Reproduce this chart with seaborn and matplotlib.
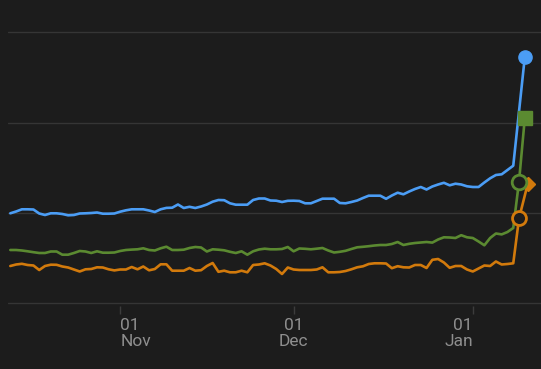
import matplotlib
matplotlib.use("Agg")
import matplotlib.pyplot as plt
import matplotlib.dates as mdates
import numpy as np
import pandas as pd
import seaborn as sns

# ---------------- data ----------------
start_date = "2023-10-13"
n_days = 88  # Oct 13 .. Jan 8, daily

blue_values = [89.7, 91.5, 93.7, 93.7, 93.5, 89.5, 88, 89.7, 89.7, 89, 87.7, 88, 89.5, 89.7, 90,
               90.5, 89.3, 89.3, 89.5, 91.3, 92.7, 93.7, 93.7, 93.7, 92.5, 91, 93.7, 95.1, 95.3,
               98.5, 95, 96.2, 95, 96.5, 98.5, 101.3, 103, 102.8, 99.7, 98.3, 98.3, 98.3, 103,
               104.5, 104.5, 102.5, 102.3, 101, 102.2, 102.3, 102, 99.7, 99.7, 102, 104.3, 104.3,
               104.3, 100, 99.7, 101, 102.5, 105, 107.3, 107.3, 107.3, 104.2, 107.5, 110.3, 108.7,
               111.5, 114, 116, 113.5, 116.5, 118.5, 120.2, 117.7, 119.3, 118.5, 116.7, 116, 116,
               120.5, 124.7, 128, 128.7, 133, 137.3]
green_values = [53, 53, 52.5, 51.7, 50.8, 50, 50, 51.5, 51.5, 48.3, 48.3, 50, 52, 51.5, 50, 51.7,
                50.3, 50.3, 50.5, 52, 53, 53.4, 53.7, 54.7, 53, 52.5, 54.7, 56.3, 53, 53, 53.3, 55,
                56, 55.5, 51.5, 53.7, 53.3, 52.7, 51.2, 50, 51.7, 48.3, 51.7, 53.5, 54.3, 53.7,
                53.7, 54, 56, 51.7, 54.5, 54.2, 53.7, 54.3, 55, 52.5, 50.5, 51.2, 52.2, 54, 55.7,
                56.2, 56.8, 57.5, 58, 58, 59, 61, 58, 59.2, 60, 60.5, 61, 60.4, 63.5, 65.7, 65.5,
                65, 67.8, 65.7, 65, 61.5, 57.7, 65, 69.5, 68.6, 71, 75]
orange_values = [37, 38.5, 39.2, 38, 37.5, 33, 37, 38.3, 38.2, 36.5, 35.5, 33.5, 31.5, 33.7, 34,
                 35.7, 35.5, 33.7, 32.6, 33.5, 33.5, 36, 33.7, 36.5, 32.7, 34, 38.7, 38.7, 32.3,
                 32.3, 32.3, 35, 32.3, 32.8, 37, 40, 31.2, 32.3, 30.7, 30.7, 32.3, 30.7, 38, 38.5,
                 39.7, 37.5, 34, 29, 35.5, 33.5, 33, 33, 33, 33.5, 35.7, 30.7, 30.7, 31, 32, 33.7,
                 35.7, 36.7, 39, 39.7, 39.7, 39.5, 34.8, 36.8, 35.7, 35.5, 38, 38, 35, 43.2, 44,
                 40.5, 35.2, 37, 37, 33.5, 31.5, 34.5, 37.5, 37, 41.5, 38.5, 39, 39.7]

blue_tail_dates = ["2024-01-10 00:00"]
blue_tail_values = [246]
green_tail_dates = ["2024-01-09 00:00", "2024-01-10 00:00"]
green_tail_values = [121.5, 185]
orange_tail_dates = ["2024-01-09 00:00", "2024-01-10 12:00"]
orange_tail_values = [84.7, 119]

tick_dates = ["2023-11-01", "2023-12-01", "2024-01-01"]
tick_labels = ["01\nNov", "01\nDec", "01\nJan"]
grid_values = [0, 90, 180.5, 271]

series_names = ["orange", "green", "blue"]
colors = {"blue": "#4b9df5", "green": "#5b8a31", "orange": "#d27a0c"}
BG = "#1c1c1c"

# ---------------- build table ----------------
days = pd.date_range(start_date, periods=n_days, freq="D")
frames = []
for name, vals, tdates, tvals in [
    ("orange", orange_values, orange_tail_dates, orange_tail_values),
    ("green", green_values, green_tail_dates, green_tail_values),
    ("blue", blue_values, blue_tail_dates, blue_tail_values),
]:
    d = list(days) + list(pd.to_datetime(tdates))
    v = list(vals) + list(tvals)
    frames.append(pd.DataFrame({"date": d, "value": v, "series": name}))
df = pd.concat(frames, ignore_index=True)

# ---------------- plot ----------------
sns.set_theme(style="dark")
plt.rcParams["font.family"] = ["Roboto", "DejaVu Sans"]

W, H = 541, 369
fig = plt.figure(figsize=(W / 100, H / 100), dpi=100, facecolor=BG)
# axes spans pixel rows 0..306 ; value v sits at pixel 303 - v
ax = fig.add_axes([8 / W, (H - 306) / H, (W - 8) / W, 306 / H])
ax.set_facecolor(BG)

sns.lineplot(data=df, x="date", y="value", hue="series", hue_order=series_names,
             palette=colors, estimator=None, sort=False, linewidth=1.9, ax=ax,
             legend=False)

def pick(name):
    return df[df.series == name].reset_index(drop=True)

o = pick("orange"); g = pick("green"); b = pick("blue")
# orange markers
ax.plot(o.date.iloc[-1], o.value.iloc[-1], marker="D", ms=7, color=colors["orange"],
        ls="none", zorder=5, clip_on=False)
ax.plot(o.date.iloc[-2], o.value.iloc[-2], marker="o", ms=10, mfc=BG,
        mec=colors["orange"], mew=2, ls="none", zorder=6, clip_on=False)
# green markers
ax.plot(g.date.iloc[-2], g.value.iloc[-2], marker="o", ms=10.5, mfc=BG,
        mec=colors["green"], mew=2, ls="none", zorder=7, clip_on=False)
ax.plot(g.date.iloc[-1], g.value.iloc[-1], marker="s", ms=10, color=colors["green"],
        ls="none", zorder=7, clip_on=False)
# blue marker
ax.plot(b.date.iloc[-1], b.value.iloc[-1], marker="o", ms=9.5, color=colors["blue"],
        ls="none", zorder=8, clip_on=False)

nov1 = mdates.date2num(pd.Timestamp("2023-11-01"))
ax.set_xlim(nov1 - 19.4, nov1 + 72.8)
ax.set_ylim(-3, 303)

ax.set_yticks(grid_values)
ax.set_yticklabels([])
ax.tick_params(axis="y", length=0)
ax.yaxis.grid(True, color="#353535", linewidth=1.0)
ax.xaxis.grid(False)
ax.set_axisbelow(True)

ax.set_xticks([mdates.date2num(pd.Timestamp(t)) for t in tick_dates])
ax.set_xticklabels(tick_labels)
ax.tick_params(axis="x", length=6, width=1, color="#3c3c3c", labelcolor="#8e8e8e",
               labelsize=12.5, pad=3, bottom=True)
for lab, ha in zip(ax.get_xticklabels(), ["left", "center", "right"]):
    lab.set_ha(ha)
    lab.set_linespacing(1.0)

for sp in ax.spines.values():
    sp.set_visible(False)
ax.set_xlabel("")
ax.set_ylabel("")

fig.savefig("out.png", dpi=100, facecolor=BG)
